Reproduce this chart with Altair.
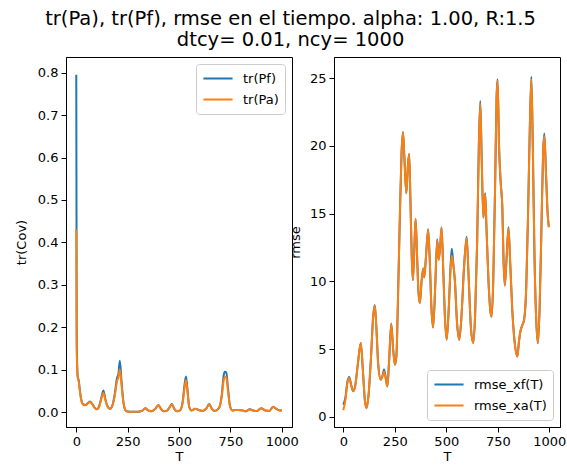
import altair as alt
import pandas as pd

# ---- left panel: trace of covariances ----
t_left = [0, 2, 4, 7, 12, 18, 25, 35, 45, 55, 67, 80, 90, 100, 110, 120, 132, 142, 152, 164,
          175, 188, 198, 205, 212, 220, 228, 236, 244, 260, 280, 300, 320, 336, 350, 365, 385,
          400, 412, 425, 440, 455, 465, 478, 490, 505, 518, 527, 534, 541, 550, 560, 580, 595,
          615, 632, 647, 660, 675, 695, 708, 717, 723, 730, 738, 748, 760, 775, 790, 810, 825,
          845, 860, 880, 900, 920, 940, 958, 975, 990, 1000]
tr_pf = [0.795, 0.20, 0.12, 0.085, 0.075, 0.05, 0.028, 0.018, 0.017, 0.021, 0.025, 0.018, 0.010,
         0.007, 0.012, 0.030, 0.051, 0.030, 0.014, 0.008, 0.015, 0.045, 0.080, 0.090, 0.121,
         0.075, 0.030, 0.008, 0.002, 0.001, 0.001, 0.001, 0.003, 0.009, 0.004, 0.002, 0.008,
         0.017, 0.008, 0.002, 0.003, 0.012, 0.019, 0.007, 0.002, 0.004, 0.025, 0.065, 0.084,
         0.055, 0.012, 0.004, 0.008, 0.005, 0.003, 0.008, 0.019, 0.008, 0.003, 0.010, 0.040,
         0.085, 0.095, 0.094, 0.060, 0.015, 0.004, 0.005, 0.005, 0.004, 0.002, 0.007, 0.004,
         0.003, 0.009, 0.004, 0.003, 0.013, 0.007, 0.004, 0.004]
tr_pa = [0.43, 0.15, 0.11, 0.082, 0.072, 0.048, 0.027, 0.017, 0.016, 0.020, 0.024, 0.017, 0.010,
         0.007, 0.011, 0.028, 0.045, 0.028, 0.013, 0.008, 0.014, 0.040, 0.072, 0.082, 0.101,
         0.065, 0.028, 0.008, 0.002, 0.001, 0.001, 0.001, 0.003, 0.009, 0.004, 0.002, 0.008,
         0.016, 0.008, 0.002, 0.003, 0.012, 0.018, 0.007, 0.002, 0.004, 0.023, 0.058, 0.076,
         0.050, 0.011, 0.004, 0.008, 0.005, 0.003, 0.008, 0.018, 0.008, 0.003, 0.010, 0.036,
         0.074, 0.083, 0.082, 0.052, 0.014, 0.004, 0.005, 0.005, 0.004, 0.002, 0.007, 0.004,
         0.003, 0.009, 0.004, 0.003, 0.013, 0.007, 0.004, 0.004]

# ---- right panel: rmse ----
t_right = [0, 10, 20, 29, 38, 48, 58, 70, 85, 95, 105, 113, 122, 135, 145, 153, 160, 170, 182,
           190, 198, 205, 214, 222, 233, 242, 251, 258, 266, 275, 283, 290, 297, 306, 314, 320,
           326, 333, 338, 345, 351, 358, 365, 372, 380, 388, 393, 400, 412, 420, 428, 436, 446,
           456, 463, 470, 477, 485, 493, 502, 512, 522, 527, 534, 542, 552, 563, 574, 586, 599,
           608, 620, 631, 640, 650, 658, 665, 672, 680, 685, 689, 695, 705, 714, 720, 728, 738,
           744, 749, 756, 765, 772, 778, 784, 792, 802, 810, 820, 832, 845, 853, 861, 870, 878,
           888, 897, 905, 913, 920, 928, 937, 945, 953, 962, 970, 976, 984, 992, 998]
rmse_xf = [0.9, 1.4, 2.6, 2.95, 2.4, 1.9, 2.3, 3.8, 5.45, 3.5, 1.2, 0.65, 1.5, 4.5, 7.4, 8.25,
           6.8, 3.8, 2.75, 3.0, 3.5, 3.0, 2.25, 4.0, 6.9, 5.0, 3.85, 4.5, 9.0, 15.0, 19.5, 21.0,
           19.0, 16.5, 18.6, 19.4, 16.0, 11.5, 10.1, 12.5, 14.6, 12.0, 9.2, 8.4, 10.0, 10.95,
           10.3, 11.5, 13.85, 11.5, 8.0, 6.6, 9.5, 13.1, 11.6, 12.5, 14.0, 11.0, 7.5, 5.7, 8.0,
           11.5, 12.4, 11.3, 10.0, 7.0, 5.7, 7.5, 11.0, 13.3, 10.5, 6.5, 5.45, 7.5, 13.0, 20.0,
           23.3, 19.0, 14.7, 15.8, 16.5, 14.0, 10.0, 7.8, 7.4, 10.0, 18.0, 23.5, 24.9, 20.0,
           17.1, 15.5, 11.5, 9.7, 11.5, 14.0, 11.5, 8.0, 5.5, 4.46, 5.6, 6.4, 6.8, 7.2, 9.5,
           15.0, 21.0, 25.1, 20.0, 12.0, 7.0, 5.44, 8.0, 14.0, 19.5, 20.9, 18.0, 15.0, 14.0]
rmse_xa = [0.5, 1.2, 2.5, 2.9, 2.35, 1.9, 2.3, 3.8, 5.45, 3.5, 1.2, 0.65, 1.5, 4.5, 7.4, 8.2,
           6.8, 3.8, 2.75, 3.0, 3.35, 2.9, 2.25, 4.0, 6.85, 5.0, 3.85, 4.5, 9.0, 15.0, 19.5, 21.0,
           19.0, 16.5, 18.6, 19.4, 16.0, 11.5, 10.1, 12.5, 14.6, 12.0, 9.2, 8.4, 10.0, 10.95,
           10.3, 11.5, 13.8, 11.5, 8.0, 6.6, 9.5, 13.0, 11.6, 12.5, 13.95, 11.0, 7.5, 5.7, 8.0,
           11.2, 11.9, 11.3, 10.0, 7.0, 5.7, 7.5, 11.0, 13.2, 10.5, 6.5, 5.45, 7.5, 13.0, 20.0,
           23.1, 19.0, 14.7, 15.8, 16.4, 14.0, 10.0, 7.8, 7.4, 10.0, 18.0, 23.5, 24.8, 20.0,
           17.1, 15.5, 11.5, 9.7, 11.5, 13.9, 11.5, 8.0, 5.5, 4.46, 5.6, 6.4, 6.8, 7.2, 9.5,
           15.0, 21.0, 24.9, 20.0, 12.0, 7.0, 5.44, 8.0, 14.0, 19.5, 20.7, 18.0, 15.0, 14.0]

title_lines = ["tr(Pa), tr(Pf), rmse en el tiempo. alpha: 1.00, R:1.5", "dtcy= 0.01, ncy= 1000"]
x_ticks = [0, 250, 500, 750, 1000]
left_yticks = [0.0, 0.1, 0.2, 0.3, 0.4, 0.5, 0.6, 0.7, 0.8]
right_yticks = [0, 5, 10, 15, 20, 25]

BLUE = "#1f77b4"
ORANGE = "#ff7f0e"
FONT = "DejaVu Sans"

left_df = pd.concat([
    pd.DataFrame({"T": t_left, "v": tr_pf, "s": "tr(Pf)"}),
    pd.DataFrame({"T": t_left, "v": tr_pa, "s": "tr(Pa)"}),
])
right_df = pd.concat([
    pd.DataFrame({"T": t_right, "v": rmse_xf, "s": "rmse_xf(T)"}),
    pd.DataFrame({"T": t_right, "v": rmse_xa, "s": "rmse_xa(T)"}),
])

def legend(orient):
    return alt.Legend(title=None, orient=orient, offset=7, symbolType="stroke",
                      symbolStrokeWidth=2, symbolSize=850, labelFontSize=13,
                      labelFont=FONT, labelColor="black", rowPadding=4, clipHeight=17,
                      fillColor="white", strokeColor="#cccccc", cornerRadius=3,
                      padding=6, labelOffset=9)

xaxis = alt.Axis(values=x_ticks, format="d", title="T", grid=False, labelFlush=False,
                 labelPadding=3, titlePadding=2)

left = alt.Chart(left_df).mark_line(strokeWidth=2, interpolate="monotone").encode(
    x=alt.X("T:Q", scale=alt.Scale(domain=[-50, 1050], nice=False, zero=False), axis=xaxis),
    y=alt.Y("v:Q", scale=alt.Scale(domain=[-0.035, 0.837], nice=False, zero=False),
            axis=alt.Axis(values=left_yticks, format=".1f", title="tr(Cov)", grid=False,
                          titlePadding=9)),
    color=alt.Color("s:N", scale=alt.Scale(domain=["tr(Pf)", "tr(Pa)"], range=[BLUE, ORANGE]),
                    sort=["tr(Pf)", "tr(Pa)"], legend=legend("top-right")),
).properties(width=226, height=370)

right = alt.Chart(right_df).mark_line(strokeWidth=2, interpolate="monotone").encode(
    x=alt.X("T:Q", scale=alt.Scale(domain=[-45, 1052], nice=False, zero=False), axis=xaxis),
    y=alt.Y("v:Q", scale=alt.Scale(domain=[-0.74, 26.55], nice=False, zero=False),
            axis=alt.Axis(values=right_yticks, format="d", title="rmse", grid=False,
                          titlePadding=7)),
    color=alt.Color("s:N", scale=alt.Scale(domain=["rmse_xf(T)", "rmse_xa(T)"], range=[BLUE, ORANGE]),
                    sort=["rmse_xf(T)", "rmse_xa(T)"], legend=legend("bottom-right")),
).properties(width=226, height=370)

chart = alt.hconcat(left, right, spacing=-11).resolve_scale(color="independent").resolve_legend(
    color="independent"
).properties(
    title=alt.TitleParams(text=title_lines, fontSize=19.5, font=FONT, fontWeight="normal",
                          anchor="middle", lineHeight=21, offset=6.5, color="black"),
    padding={"left": 14, "top": 8, "right": 0, "bottom": 0},
    background="white",
).configure_view(stroke="black", strokeWidth=1).configure_axis(
    labelFont=FONT, titleFont=FONT, labelFontSize=13, titleFontSize=13,
    titleFontWeight="normal", labelColor="black", titleColor="black",
    domainColor="black", tickColor="black", tickSize=5, labelPadding=3,
)

chart.save("out.html", embed_options={"renderer": "svg", "actions": False})
